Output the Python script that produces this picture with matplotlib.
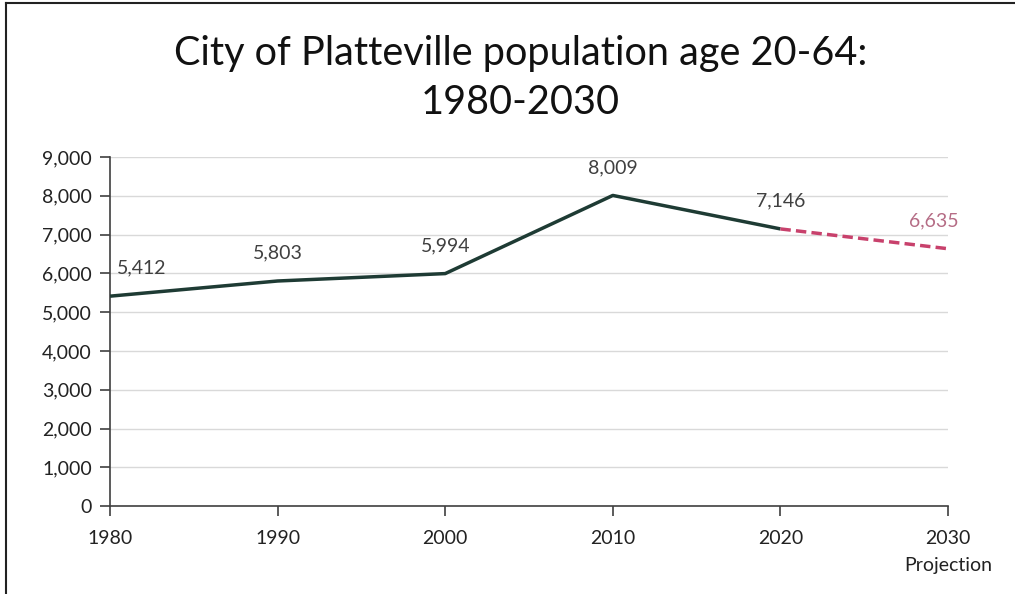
import matplotlib
matplotlib.use("Agg")
import matplotlib.pyplot as plt
from matplotlib.lines import Line2D

years = [1980, 1990, 2000, 2010, 2020]
population = [5412, 5803, 5994, 8009, 7146]
proj_years = [2020, 2030]
proj_values = [7146, 6635]
xtick_labels = ["1980", "1990", "2000", "2010", "2020", "2030\nProjection"]
yticks = list(range(0, 9001, 1000))

plt.rcParams['font.family'] = ['Lato', 'DejaVu Sans']

fig = plt.figure(figsize=(10.15, 5.94), dpi=100)
ax = fig.add_axes([0.1084, 0.148, 0.8256, 0.5877])

ax.plot(years, population, color="#1e3b34", lw=2.5, solid_capstyle="butt", zorder=3)
ax.plot(proj_years, proj_values, color="#c8416c", lw=2.5, ls=(0, (3, 1.5)), zorder=3)

for i, (x, y) in enumerate(zip(years, population)):
    if i == 0:
        ax.annotate(f"{y:,}", (x, y), xytext=(5, 14), textcoords="offset points",
                    ha="left", va="bottom", fontsize=14, color="#404040")
    else:
        ax.annotate(f"{y:,}", (x, y), xytext=(0, 14), textcoords="offset points",
                    ha="center", va="bottom", fontsize=14, color="#404040")
ax.annotate(f"{proj_values[-1]:,}", (proj_years[-1], proj_values[-1]), xytext=(-10, 14),
            textcoords="offset points", ha="center", va="bottom", fontsize=14, color="#b56c85")

ax.set_xlim(1980, 2030)
ax.set_ylim(0, 9000)
ax.set_yticks(yticks)
ax.set_yticklabels([f"{v:,}" for v in yticks], fontsize=14, color="#222222")
ax.set_xticks([1980, 1990, 2000, 2010, 2020, 2030])
ax.set_xticklabels(xtick_labels, fontsize=14, color="#222222", linespacing=1.75)
ax.grid(axis="y", color="#d9d9d9", lw=1)
ax.set_axisbelow(True)
for s in ["top", "right"]:
    ax.spines[s].set_visible(False)
for s in ["left", "bottom"]:
    ax.spines[s].set_color("#404040")
    ax.spines[s].set_linewidth(1.2)
ax.tick_params(axis="both", direction="out", length=7, color="#404040", width=1.2)
ax.tick_params(axis="x", pad=10)
ax.tick_params(axis="y", pad=6)

fig.text(0.513, 0.868, "City of Platteville population age 20-64:\n1980-2030",
         ha="center", va="center", fontsize=28.5, color="#111111", linespacing=1.4)

fig.add_artist(Line2D([0.006, 0.006], [0, 0.995], transform=fig.transFigure,
                      color="#222222", lw=1.5))
fig.add_artist(Line2D([0.006, 1.0], [0.995, 0.995], transform=fig.transFigure,
                      color="#222222", lw=1.5))

fig.savefig("out.png", dpi=100)
